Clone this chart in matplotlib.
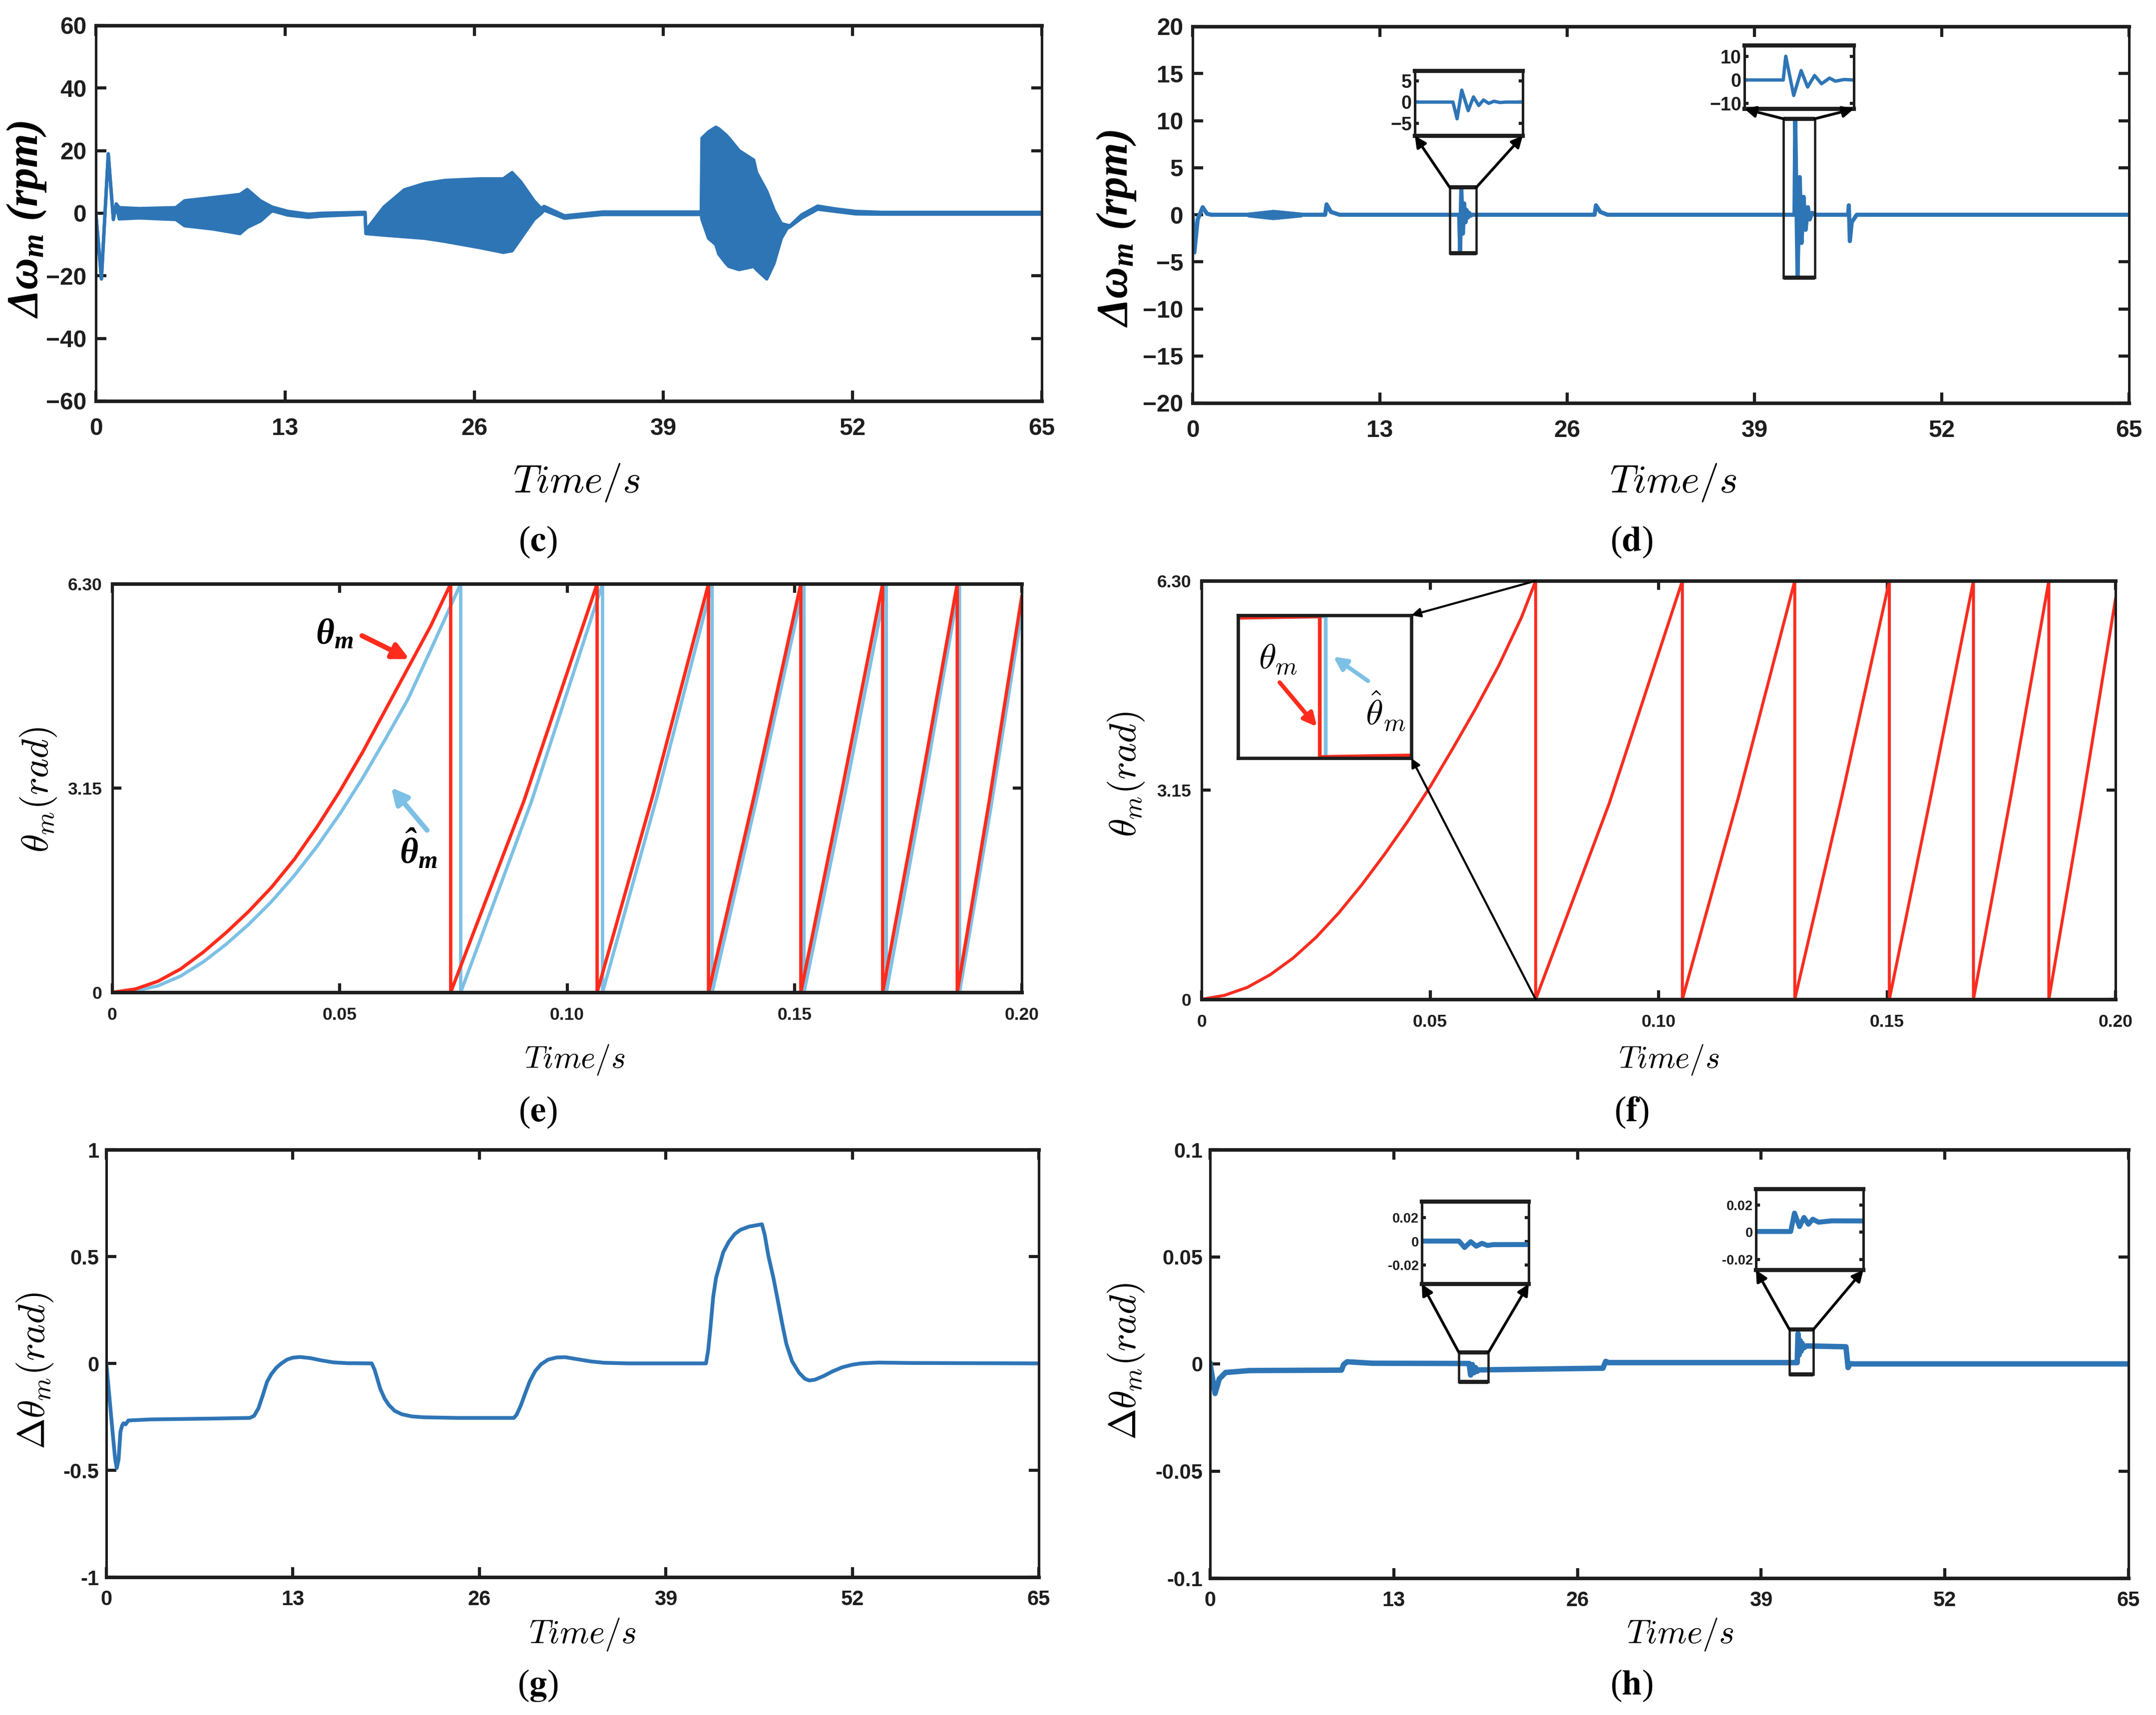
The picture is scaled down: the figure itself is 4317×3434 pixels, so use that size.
"""
Six-panel comparison of the speed / rotor-angle estimation results
(panels c-h). Envelopes and traces below were read off the reference figure.
"""

import matplotlib
matplotlib.use("Agg")
import matplotlib.pyplot as plt
from matplotlib.patches import Rectangle, ConnectionPatch

W, H, DPI = 4317, 3434, 300

BLUE = "#2E75B6"
RED = "#FF2B1C"
SKY = "#7DC0E5"
INK = "#1E1E1E"

plt.rcParams["font.family"] = ["Liberation Sans", "DejaVu Sans"]
plt.rcParams["font.weight"] = "bold"
plt.rcParams["mathtext.fontset"] = "cm"
plt.rcParams["mathtext.bf"] = "Liberation Serif:bold:italic"
plt.rcParams["mathtext.rm"] = "Liberation Serif"
plt.rcParams["mathtext.it"] = "Liberation Serif:italic"

# ---------------- (c) speed error, envelope of the ripple band (rpm)
c_t = [0, 0.38, 0.85, 1.2, 1.4, 1.6, 3.0, 5.5, 6.1, 8.0, 9.9, 10.4, 11.3, 12.1,
       13.2, 14.6, 15.5, 18.5, 18.55, 19.8, 21.2, 22.6, 24.0, 26.4, 28.0, 28.6,
       29.2, 30.1, 30.6, 30.8, 32.2, 34.8, 41.6, 41.65, 42.1, 42.6, 42.8, 43.3,
       43.5, 44.2, 45.2, 45.4, 46.1, 46.6, 47.1, 47.5, 47.7, 48.5, 49.6, 50.8,
       52.2, 54.0, 65.0]
c_hi = [0, -21, 19, -2, 3, 1.8, 1.5, 1.8, 4, 5, 6, 7.6, 4, 2.0,
        0.6, -0.3, 0.0, 0.3, -5.5, 2, 7.5, 9.5, 10.5, 11, 11, 13,
        10, 4, 1.5, 2.2, -0.8, 0.4, 0.4, 24, 26, 27.5, 27, 25,
        24, 20, 17, 13, 7, 1, -3.3, -3.8, -4.0, -0.5, 2.3, 1.4,
        0.6, 0.3, 0.3]
c_lo = [0, -21, 19, -2, 3, -1.8, -1.5, -2, -4, -5, -6.5, -4.5, -2.5, 0.8,
        -0.6, -1.3, -0.9, -0.3, -6.5, -7, -7.5, -8, -9, -11, -12.5, -12,
        -8, -2, 0, 1.0, -1.6, -0.4, -0.4, -2, -8, -10, -13, -16,
        -17, -18, -17, -18, -21, -16, -8, -4.8, -4.3, -1.5, 1.3, 0.6,
        -0.2, -0.3, -0.3]

# ---------------- (d) speed error with the proposed observer (rpm)
d_t = [0, 0.12, 0.35, 0.7, 1.0, 1.3, 9.2, 9.3, 9.6, 10.2,
       18.50, 18.57, 18.65, 18.76, 18.85, 18.94, 19.02, 19.11, 19.20, 19.30, 19.40,
       27.9, 28.0, 28.3, 28.8,
       41.78, 41.83, 41.99, 42.14, 42.27, 42.41, 42.55, 42.71, 42.83, 43.0, 43.2,
       45.5, 45.55, 45.62, 45.75, 46.1, 65]
d_v = [0, -4.0, -0.5, 0.8, 0.1, 0, 0, 1.1, 0.3, 0,
       0, -3.9, 2.8, -2.0, 1.2, -0.8, 0.5, -0.3, 0.2, -0.1, 0,
       0, 1.0, 0.3, 0,
       0, 10.1, -6.6, 4.0, -3.0, 1.9, -1.6, 0.8, -0.5, 0.2, 0,
       0, 1.0, -2.8, -0.8, 0, 0]
d_swell_t = [3.8, 5.6, 7.6]
d_swell_hi = [0.25, 0.55, 0.25]
d_swell_lo = [-0.25, -0.55, -0.25]

# ---------------- (e) rotor angle vs estimate, segments between wraps (rad)
e_red_t = [[0, 0.005, 0.010, 0.015, 0.020, 0.025, 0.030, 0.035, 0.040, 0.045,
            0.050, 0.055, 0.060, 0.065, 0.070, 0.0744],
           [0.0744, 0.0905, 0.1066], [0.1066, 0.1189, 0.1311],
           [0.1311, 0.1413, 0.1514], [0.1514, 0.1604, 0.1694],
           [0.1694, 0.1776, 0.1858], [0.1858, 0.1929, 0.2000]]
e_red_v = [[0, 0.05, 0.17, 0.36, 0.62, 0.92, 1.25, 1.62, 2.05, 2.55,
            3.10, 3.70, 4.35, 5.00, 5.65, 6.30],
           [0, 2.95, 6.30], [0, 3.05, 6.30], [0, 3.08, 6.30],
           [0, 3.10, 6.30], [0, 3.10, 6.30], [0, 2.98, 6.11]]
e_blue_t = [[0, 0.005, 0.010, 0.015, 0.020, 0.025, 0.030, 0.035, 0.040, 0.045,
             0.050, 0.055, 0.060, 0.065, 0.070, 0.0766],
            [0.0766, 0.0922, 0.1078], [0.1078, 0.1199, 0.1319],
            [0.1319, 0.1420, 0.1521], [0.1521, 0.1612, 0.1702],
            [0.1702, 0.1783, 0.1863], [0.1863, 0.1932, 0.2000]]
e_blue_v = [[0, 0.02, 0.10, 0.25, 0.47, 0.74, 1.05, 1.40, 1.80, 2.25,
             2.75, 3.30, 3.90, 4.52, 5.28, 6.30],
            [0, 2.95, 6.30], [0, 3.05, 6.30], [0, 3.08, 6.30],
            [0, 3.10, 6.30], [0, 3.10, 6.30], [0, 2.85, 5.87]]

# ---------------- (f) same with the proposed observer (estimate sits under the red)
f_red_t = [[0, 0.005, 0.010, 0.015, 0.020, 0.025, 0.030, 0.035, 0.040, 0.045,
            0.050, 0.055, 0.060, 0.065, 0.070, 0.0731],
           [0.0731, 0.0892, 0.1052], [0.1052, 0.1175, 0.1298],
           [0.1298, 0.1402, 0.1505], [0.1505, 0.1597, 0.1689],
           [0.1689, 0.1772, 0.1854], [0.1854, 0.1927, 0.2000]]
f_red_v = [[0, 0.06, 0.18, 0.37, 0.62, 0.93, 1.30, 1.72, 2.18, 2.67,
            3.20, 3.78, 4.38, 5.02, 5.75, 6.30],
           [0, 2.95, 6.30], [0, 3.05, 6.30], [0, 3.08, 6.30],
           [0, 3.10, 6.30], [0, 3.10, 6.30], [0, 2.95, 6.03]]
f_blue_t = [[0, 0.005, 0.010, 0.015, 0.020, 0.025, 0.030, 0.035, 0.040, 0.045,
             0.050, 0.055, 0.060, 0.065, 0.070, 0.073124],
            [0.073124, 0.0892, 0.10522], [0.10522, 0.1175, 0.12982],
            [0.12982, 0.1402, 0.15052], [0.15052, 0.1597, 0.16892],
            [0.16892, 0.1772, 0.18542], [0.18542, 0.1927, 0.2000]]
f_blue_v = [[0, 0.06, 0.18, 0.37, 0.62, 0.93, 1.30, 1.72, 2.18, 2.67,
             3.20, 3.78, 4.38, 5.02, 5.75, 6.30],
            [0, 2.95, 6.30], [0, 3.05, 6.30], [0, 3.08, 6.30],
            [0, 3.10, 6.30], [0, 3.10, 6.30], [0, 2.95, 6.02]]

# ---------------- (g) angle error, conventional (rad)
g_t = [0, 0.2, 0.43, 0.6, 0.72, 0.85, 0.98, 1.1, 1.19, 1.35, 1.53, 3.1, 7.4,
       10.0, 10.3, 10.6, 10.9, 11.2, 11.5, 11.85, 12.2, 12.6, 13.0, 13.5, 14.2,
       15.0, 15.8, 16.8, 18.5,
       18.7, 18.9, 19.1, 19.4, 19.7, 20.1, 20.6, 21.3, 22.1, 24.4, 28.4,
       28.6, 28.9, 29.2, 29.5, 29.9, 30.3, 30.8, 31.4, 32.0, 32.8, 33.8, 34.7, 36.4,
       41.8, 41.95, 42.1, 42.3, 42.5, 42.75, 43.0, 43.4, 43.8, 44.2, 44.8, 45.7,
       45.9, 46.15, 46.5, 46.8, 47.1, 47.4, 47.8, 48.3, 48.7, 49.0, 49.4, 50.0,
       50.6, 51.3, 52.0, 52.6, 53.8, 56.0, 65]
g_v = [0, -0.15, -0.32, -0.44, -0.49, -0.45, -0.32, -0.29, -0.28, -0.285, -0.267, -0.262, -0.258,
       -0.255, -0.245, -0.21, -0.15, -0.086, -0.05, -0.02, 0.0, 0.018, 0.027, 0.03, 0.025,
       0.014, 0.005, 0.001, 0,
       -0.03, -0.075, -0.12, -0.165, -0.195, -0.222, -0.238, -0.248, -0.252, -0.255, -0.255,
       -0.24, -0.195, -0.14, -0.086, -0.035, -0.004, 0.018, 0.028, 0.029, 0.02, 0.009, 0.003, 0,
       0, 0.06, 0.16, 0.31, 0.40, 0.46, 0.52, 0.57, 0.605, 0.625, 0.64, 0.651,
       0.60, 0.503, 0.40, 0.297, 0.19, 0.092, 0.01, -0.045, -0.072, -0.08, -0.076, -0.059,
       -0.038, -0.018, -0.006, 0.0, 0.004, 0.002, 0]

# ---------------- (h) angle error, proposed (rad)
h_t = [0, 0.35, 0.65, 1.1, 2.8, 9.3, 9.45, 9.7, 11.5,
       18.33, 18.44, 18.56, 18.67, 18.78, 18.89, 19.0,
       27.8, 28.0, 28.2,
       41.55, 41.61, 41.69, 41.76, 41.83, 41.90, 41.99, 42.2,
       45.0, 45.15, 45.3, 45.6, 65]
h_v = [0, -0.0138, -0.007, -0.004, -0.0031, -0.0029, -0.0003, 0.001, 0.0003,
       0.0002, -0.0052, -0.0003, -0.0041, -0.0017, -0.0035, -0.0028,
       -0.0020, 0.0012, 0.0006,
       0.0006, 0.0141, 0.0042, 0.0109, 0.0059, 0.0096, 0.0074, 0.0084,
       0.0080, -0.0017, 0.0001, 0, 0]

T_TICKS = [0, 13, 26, 39, 52, 65]
T_LABELS = ["0", "13", "26", "39", "52", "65"]
A_TICKS = [0, 0.05, 0.10, 0.15, 0.20]
A_LABELS = ["0", "0.05", "0.10", "0.15", "0.20"]
H_INSET_TICKS = [-0.02, 0, 0.02]
H_INSET_LABELS = ["-0.02", "0", "0.02"]


def px_axes(fig, box):
    x0, y0, x1, y1 = box
    return fig.add_axes([x0 / W, 1 - y1 / H, (x1 - x0) / W, (y1 - y0) / H])


def fig_text(fig, x, y, s, **kw):
    return fig.text(x / W, 1 - y / H, s, ha="center", va="center", **kw)


def style(ax, size, length, xpad, ypad, thick=1.7, thin=1.2):
    ax.tick_params(direction="in", top=True, right=True, length=length,
                   width=1.5, labelsize=size, colors=INK)
    ax.tick_params(axis="x", pad=xpad)
    ax.tick_params(axis="y", pad=ypad)
    for s in ("top", "bottom"):
        ax.spines[s].set_linewidth(thick)
    for s in ("left", "right"):
        ax.spines[s].set_linewidth(thin)
    for sp in ax.spines.values():
        sp.set_color(INK)


def sawtooth(ax, ts, vs, **kw):
    xs, ys = [], []
    for t, v in zip(ts, vs):
        xs += t
        ys += v
    ax.plot(xs, ys, **kw)


def zoom_box(fig, ax, rect, box, ylim, yticks, draw, size, ylabels=None):
    t0, t1, y0, y1 = rect
    ax.add_patch(Rectangle((t0, y0), t1 - t0, y1 - y0, fill=False, ec=INK,
                           lw=1.1, zorder=6))
    ax.plot([t0, t1], [y0, y0], color=INK, lw=2.0, zorder=6, solid_capstyle="butt")
    ax.plot([t0, t1], [y1, y1], color=INK, lw=2.0, zorder=6, solid_capstyle="butt")
    ins = px_axes(fig, box)
    draw(ins)
    ins.set_xlim(t0, t1)
    ins.set_ylim(*ylim)
    ins.set_xticks([])
    ins.set_yticks(yticks, ylabels)
    style(ins, size, 2, 2, 1.5, thick=2.0, thin=1.2)
    ins.tick_params(top=False, bottom=False)
    for pa, pb in (((t0, y1), (0, 0)), ((t1, y1), (1, 0))):
        fig.add_artist(ConnectionPatch(xyA=pa, coordsA=ax.transData, xyB=pb,
                                       coordsB=ins.transAxes, arrowstyle="-|>",
                                       mutation_scale=11, lw=1.3, color="k",
                                       shrinkA=0, shrinkB=0, zorder=7))
    return ins


fig = plt.figure(figsize=(W / DPI, H / DPI), dpi=DPI)

TIME = r"$Time/s$"
BOLD = dict(math_fontfamily="custom")

# ---------------------------------------------------------------- (c)
ax = px_axes(fig, (192, 51, 2086, 803))
ax.fill_between(c_t, c_lo, c_hi, color=BLUE, lw=0)
ax.plot(c_t, c_hi, color=BLUE, lw=1.6)
ax.plot(c_t, c_lo, color=BLUE, lw=1.6)
ax.set_xlim(0, 65)
ax.set_ylim(-60, 60)
ax.set_xticks(T_TICKS, T_LABELS)
ax.set_yticks([-60, -40, -20, 0, 20, 40, 60])
style(ax, 11.5, 5, 8, 4.5)
fig_text(fig, 54, 440, r"$\mathbf{\Delta\omega_m\ (rpm)}$", rotation=90,
         fontsize=21, **BOLD)
fig_text(fig, 1154, 967, TIME, fontsize=19)
fig_text(fig, 1077, 1085, r"($\mathbf{c}$)", family="Liberation Serif",
         fontweight="normal", fontsize=17, math_fontfamily="stix")

# ---------------------------------------------------------------- (d)
ax = px_axes(fig, (2388, 53, 4263, 807))
ax.fill_between(d_swell_t, d_swell_lo, d_swell_hi, color=BLUE, lw=0)
ax.plot(d_t, d_v, color=BLUE, lw=2.0)
ax.set_xlim(0, 65)
ax.set_ylim(-20, 20)
ax.set_xticks(T_TICKS, T_LABELS)
ax.set_yticks(range(-20, 21, 5))
style(ax, 11.5, 5, 8, 4.5)
zoom_box(fig, ax, (17.85, 19.69, -4.1, 2.9), (2833, 142, 3049, 272),
         (-7.9, 7.3), [-5, 0, 5], lambda a: a.plot(d_t, d_v, color=BLUE, lw=1.6), 9)
zoom_box(fig, ax, (41.0, 43.2, -6.7, 10.2), (3493, 91, 3712, 218),
         (-12.3, 14.7), [-10, 0, 10], lambda a: a.plot(d_t, d_v, color=BLUE, lw=1.6), 9)
fig_text(fig, 2236, 458, r"$\mathbf{\Delta\omega_m\ (rpm)}$", rotation=90,
         fontsize=21, **BOLD)
fig_text(fig, 3350, 967, TIME, fontsize=19)
fig_text(fig, 3267, 1085, r"($\mathbf{d}$)", family="Liberation Serif",
         fontweight="normal", fontsize=17, math_fontfamily="stix")

# ---------------------------------------------------------------- (e)
ax = px_axes(fig, (225, 1169, 2046, 1987))
sawtooth(ax, e_blue_t, e_blue_v, color=SKY, lw=1.6)
sawtooth(ax, e_red_t, e_red_v, color=RED, lw=1.6)
ax.set_xlim(0, 0.2)
ax.set_ylim(0, 6.30)
ax.set_xticks(A_TICKS, A_LABELS)
ax.set_yticks([0, 3.15, 6.30], ["0", "3.15", "6.30"])
style(ax, 8.5, 4.4, 7, 5)
ax.text(0.0489, 5.51, r"$\mathbf{\theta_m}$", fontsize=17, ha="center",
        va="center", **BOLD)
ax.annotate("", xy=(0.0653, 5.14), xytext=(0.0549, 5.50),
            arrowprops=dict(arrowstyle="-|>", color=RED, lw=2.4,
                            mutation_scale=16, shrinkA=0, shrinkB=0))
ax.text(0.0673, 2.20, r"$\mathbf{\hat{\theta}_m}$", fontsize=17, ha="center",
        va="center", **BOLD)
ax.annotate("", xy=(0.0613, 3.16), xytext=(0.0692, 2.50),
            arrowprops=dict(arrowstyle="-|>", color=SKY, lw=2.4,
                            mutation_scale=16, shrinkA=0, shrinkB=0))
fig_text(fig, 77, 1581, r"$\theta_m(rad)$", rotation=90, fontsize=18)
fig_text(fig, 1151, 2122, TIME, fontsize=15)
fig_text(fig, 1077, 2227, r"($\mathbf{e}$)", family="Liberation Serif",
         fontweight="normal", fontsize=17, math_fontfamily="stix")

# ---------------------------------------------------------------- (f)
ax = px_axes(fig, (2406, 1163, 4236, 2001))
sawtooth(ax, f_blue_t, f_blue_v, color=SKY, lw=1.4)
sawtooth(ax, f_red_t, f_red_v, color=RED, lw=1.4)
ax.set_xlim(0, 0.2)
ax.set_ylim(0, 6.30)
ax.set_xticks(A_TICKS, A_LABELS)
ax.set_yticks([0, 3.15, 6.30], ["0", "3.15", "6.30"])
style(ax, 8.5, 4.4, 7, 5)
ins = px_axes(fig, (2479, 1232, 2826, 1518))
sawtooth(ins, f_blue_t, f_blue_v, color=SKY, lw=1.8)
sawtooth(ins, f_red_t, f_red_v, color=RED, lw=1.8)
ins.set_xlim(0.07277, 0.07347)
ins.set_ylim(-0.05, 6.35)
ins.set_xticks([])
ins.set_yticks([])
for s in ins.spines.values():
    s.set_linewidth(1.6)
    s.set_color(INK)
ins.text(0.23, 0.69, r"$\theta_m$", transform=ins.transAxes, fontsize=17,
         ha="center", va="center")
ins.annotate("", xy=(0.455, 0.22), xytext=(0.24, 0.53), xycoords="axes fraction",
             textcoords="axes fraction",
             arrowprops=dict(arrowstyle="-|>", color=RED, lw=2.0,
                             mutation_scale=13, shrinkA=0, shrinkB=0))
ins.text(0.85, 0.33, r"$\hat{\theta}_m$", transform=ins.transAxes, fontsize=17,
         ha="center", va="center")
ins.annotate("", xy=(0.55, 0.71), xytext=(0.75, 0.54), xycoords="axes fraction",
             textcoords="axes fraction",
             arrowprops=dict(arrowstyle="-|>", color=SKY, lw=2.0,
                             mutation_scale=13, shrinkA=0, shrinkB=0))
for pa, pb in (((0.0731, 6.30), (1, 1)), ((0.0731, 0.0), (1, 0))):
    fig.add_artist(ConnectionPatch(xyA=pa, coordsA=ax.transData, xyB=pb,
                                   coordsB=ins.transAxes, arrowstyle="-|>",
                                   mutation_scale=9, lw=1.0, color="k",
                                   shrinkA=0, shrinkB=0, zorder=7))
fig_text(fig, 2255, 1550, r"$\theta_m(rad)$", rotation=90, fontsize=18)
fig_text(fig, 3342, 2122, TIME, fontsize=15)
fig_text(fig, 3267, 2227, r"($\mathbf{f}$)", family="Liberation Serif",
         fontweight="normal", fontsize=17, math_fontfamily="stix")

# ---------------------------------------------------------------- (g)
ax = px_axes(fig, (213, 2302, 2080, 3158))
ax.plot(g_t, g_v, color=BLUE, lw=1.8)
ax.set_xlim(0, 65)
ax.set_ylim(-1, 1)
ax.set_xticks(T_TICKS, T_LABELS)
ax.set_yticks([-1, -0.5, 0, 0.5, 1], ["-1", "-0.5", "0", "0.5", "1"])
style(ax, 10, 4.8, 6, 3.5)
fig_text(fig, 70, 2745, r"$\Delta\theta_m(rad)$", rotation=90, fontsize=18)
fig_text(fig, 1166, 3273, TIME, fontsize=16)
fig_text(fig, 1077, 3375, r"($\mathbf{g}$)", family="Liberation Serif",
         fontweight="normal", fontsize=17, math_fontfamily="stix")

# ---------------------------------------------------------------- (h)
ax = px_axes(fig, (2423, 2302, 4262, 3160))
ax.plot(h_t, h_v, color=BLUE, lw=2.6)
ax.set_xlim(0, 65)
ax.set_ylim(-0.1, 0.1)
ax.set_xticks(T_TICKS, T_LABELS)
ax.set_yticks([-0.1, -0.05, 0, 0.05, 0.1], ["-0.1", "-0.05", "0", "0.05", "0.1"])
style(ax, 10, 4.8, 6, 3.5)
zoom_box(fig, ax, (17.6, 19.7, -0.0084, 0.0054), (2847, 2406, 3061, 2571),
         (-0.036, 0.0335), H_INSET_TICKS,
         lambda a: a.plot(h_t, h_v, color=BLUE, lw=2.4), 6.5, H_INSET_LABELS)
zoom_box(fig, ax, (41.0, 42.7, -0.0049, 0.0161), (3516, 2381, 3731, 2543),
         (-0.0277, 0.0317), H_INSET_TICKS,
         lambda a: a.plot(h_t, h_v, color=BLUE, lw=2.4), 6.5, H_INSET_LABELS)
fig_text(fig, 2255, 2726, r"$\Delta\theta_m(rad)$", rotation=90, fontsize=18)
fig_text(fig, 3364, 3273, TIME, fontsize=16)
fig_text(fig, 3267, 3375, r"($\mathbf{h}$)", family="Liberation Serif",
         fontweight="normal", fontsize=17, math_fontfamily="stix")

fig.savefig("out.png", dpi=DPI)
